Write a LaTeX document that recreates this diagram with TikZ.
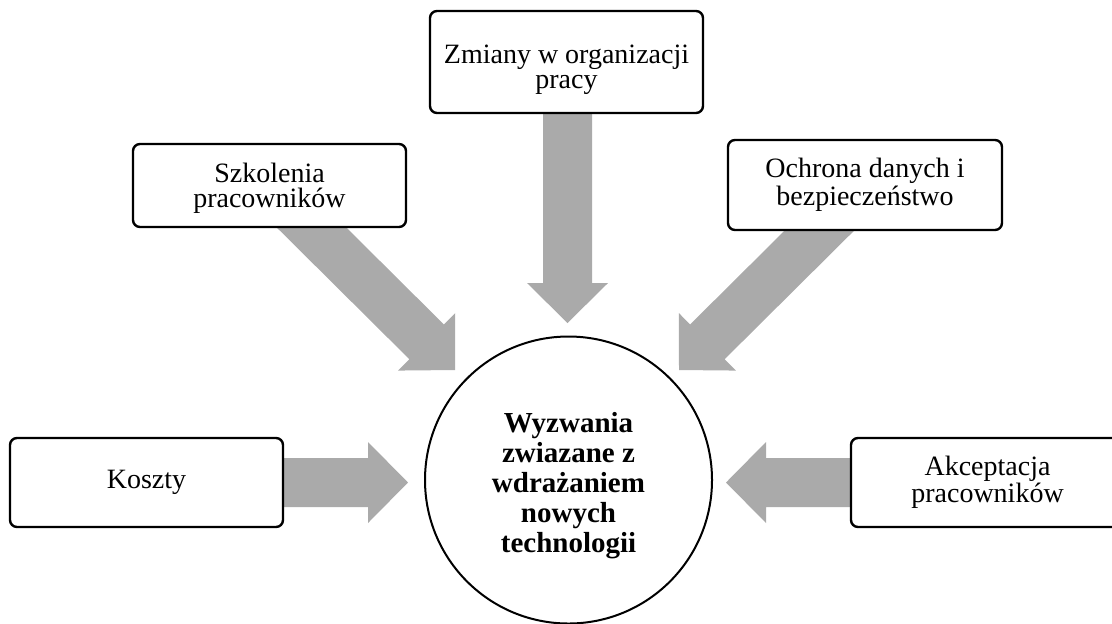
\documentclass[tikz,border=0pt]{standalone}
\usepackage{fontspec}
\setmainfont{Liberation Serif}
\usetikzlibrary{calc,backgrounds}
\definecolor{arrowgray}{RGB}{170,170,170}
\def\shaftw{12.25pt}
\def\headw{20.25pt}
\def\headlen{20pt}
% #1 name prefix, #2 start coordinate, #3 tip coordinate
\newcommand{\blockarrow}[3]{%
  \coordinate (#1S) at (#2);
  \coordinate (#1T) at (#3);
  \coordinate (#1B) at ($(#1T)!\headlen!(#1S)$);
  \fill[arrowfill]
    ($(#1S)!\shaftw!90:(#1T)$) -- ($(#1B)!\shaftw!90:(#1T)$) --
    ($(#1B)!\headw!90:(#1T)$) -- (#1T) --
    ($(#1B)!\headw!-90:(#1T)$) -- ($(#1B)!\shaftw!-90:(#1T)$) --
    ($(#1S)!\shaftw!-90:(#1T)$) -- cycle;
}
\newcommand{\topstrut}[1]{\rule{0pt}{#1}}
\begin{document}
\begin{tikzpicture}[x=0.5pt,y=-0.5pt,
  box/.style={draw, line width=1.2pt, rounded corners=3.5pt, fill=white,
    minimum width=136.5pt, align=center, inner sep=2pt,
    font=\fontsize{14}{12.5}\selectfont},
  hub/.style={circle, draw, line width=1pt, fill=white, minimum size=143.5pt,
    inner sep=0pt, align=center, font=\bfseries\fontsize{14.5}{15}\selectfont},
  arrowfill/.style={fill=arrowgray}]
\useasboundingbox (0,0) rectangle (1112,623);
\clip (0,0) rectangle (1112,623);

\node[hub] (c) at (568.5,480) {\topstrut{16pt}Wyzwania\\zwiazane z\\wdrażaniem\\nowych\\technologii};

\node[box, minimum height=44.5pt] (koszty) at (146.5,482.5) {Koszty};
\node[box, minimum height=44.5pt] (akc) at (987.5,482.5) {Akceptacja\\pracowników};
\node[box, minimum height=41.5pt] (szk) at (269.5,185.5) {\topstrut{12.7pt}Szkolenia\\pracowników};
\node[box, minimum height=51pt] (zm) at (566.5,62) {\topstrut{17.5pt}Zmiany w organizacji\\pracy};
\node[box, minimum height=45pt, minimum width=137pt] (och) at (865,185) {Ochrona danych i\\bezpieczeństwo};

\coordinate (tipk) at (408,482.5);
\coordinate (tipa) at (726,482.5);
\coordinate (tips) at (455,370);
\coordinate (tipz) at (567.5,323);
\coordinate (tipo) at (679,370);

\begin{scope}[on background layer]
  \blockarrow{arrK}{$(koszty.east)+(-13,0)$}{tipk}
  \blockarrow{arrA}{$(akc.west)+(13,0)$}{tipa}
  \blockarrow{arrS}{$(szk.south)+(12.5,-30)$}{tips}
  \blockarrow{arrZ}{$(zm.south)+(1,-13)$}{tipz}
  \blockarrow{arrO}{$(och.south)+(-16,-30)$}{tipo}
\end{scope}
\end{tikzpicture}
\end{document}
